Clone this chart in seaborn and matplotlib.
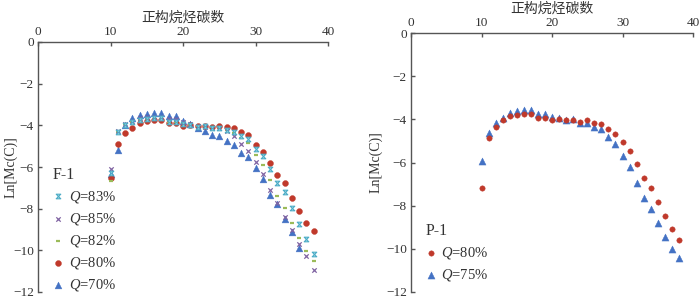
import numpy as np
import pandas as pd
import matplotlib
matplotlib.use("Agg")
import matplotlib.pyplot as plt
from matplotlib.path import Path
import seaborn as sns

# ---------------- data ----------------
carbon = list(range(10, 39))
carbon_70 = list(range(10, 37))

f1_q83 = [-6.30, -4.30, -4.00, -3.85, -3.72, -3.68, -3.65, -3.65, -3.85, -3.85, -3.92, -3.98, -4.08, -4.05,
          -4.12, -4.12, -4.20, -4.30, -4.50, -4.66, -5.13, -5.45, -6.08, -6.75, -7.19, -7.95, -8.74, -9.44, -10.17]
f1_q85 = [-6.08, -4.29, -3.94, -3.80, -3.63, -3.62, -3.60, -3.60, -3.68, -3.70, -3.85, -3.95, -4.05, -4.08,
          -4.12, -4.13, -4.29, -4.51, -4.89, -5.21, -5.77, -6.35, -7.11, -7.75, -8.38, -9.01, -9.69, -10.25, -10.94]
f1_q82 = [-6.67, -4.30, -3.95, -3.85, -3.75, -3.70, -3.68, -3.68, -3.82, -3.82, -3.90, -3.98, -4.05, -4.05,
          -4.10, -4.10, -4.20, -4.35, -4.61, -4.86, -5.42, -5.89, -6.63, -7.39, -7.98, -8.69, -9.41, -10.04, -10.51]
f1_q80 = [-6.52, -4.90, -4.39, -4.12, -3.90, -3.79, -3.75, -3.75, -3.91, -3.91, -4.02, -3.98, -4.05, -4.04,
          -4.10, -4.05, -4.10, -4.13, -4.31, -4.47, -4.92, -5.26, -5.83, -6.40, -6.79, -7.47, -8.09, -8.68, -9.07]
f1_q70 = [-6.32, -5.18, -3.99, -3.66, -3.50, -3.44, -3.41, -3.41, -3.55, -3.56, -3.77, -3.94, -4.15, -4.28,
          -4.45, -4.50, -4.73, -4.94, -5.32, -5.50, -6.03, -6.60, -7.32, -7.78, -8.49, -9.14, -9.90]

p1_q80 = [-7.19, -4.85, -4.34, -4.03, -3.86, -3.78, -3.73, -3.76, -3.92, -3.92, -4.03, -4.00, -4.05, -4.03,
          -4.12, -4.04, -4.15, -4.21, -4.46, -4.68, -5.05, -5.45, -6.08, -6.70, -7.16, -7.81, -8.46, -9.06, -9.60]
p1_q75 = [-5.93, -4.64, -4.18, -3.92, -3.72, -3.63, -3.58, -3.59, -3.77, -3.77, -3.90, -3.94, -4.03, -3.98,
          -4.15, -4.18, -4.34, -4.46, -4.83, -5.14, -5.68, -6.22, -6.94, -7.64, -8.16, -8.78, -9.43, -9.99, -10.42]

x_ticks = [0, 10, 20, 30, 40]
y_ticks = [0, -2, -4, -6, -8, -10, -12]
x_label = "正构烷烃碳数"
y_label = "Ln[Mc(C)]"

# ---------------- style ----------------
sns.set_theme(style="white")
plt.rcParams['font.family'] = ['Liberation Serif', 'Noto Sans CJK SC', 'DejaVu Sans']
plt.rcParams['mathtext.fontset'] = 'custom'
plt.rcParams['mathtext.it'] = 'Liberation Serif:italic'
plt.rcParams['mathtext.rm'] = 'Liberation Serif'
plt.rcParams['axes.unicode_minus'] = True

hourglass = Path([(-1, 1), (1, 1), (-1, -1), (1, -1), (-1, 1)],
                 [Path.MOVETO, Path.LINETO, Path.LINETO, Path.LINETO, Path.CLOSEPOLY])

C_CYAN = '#4bacc6'
C_PURP = '#8064a2'
C_GREEN = '#9bbb59'
C_RED = '#c0392b'
C_BLUE = '#4472c4'
TXT = '#333333'

fig = plt.figure(figsize=(7, 3), dpi=100)
ax1 = fig.add_axes([38 / 700, 8 / 300, 290 / 700, 250 / 300])
ax2 = fig.add_axes([411 / 700, 8 / 300, 282 / 700, 259 / 300])


def style_axes(ax, label_x):
    ax.set_xlim(0, 40)
    ax.set_ylim(-12, 0)
    ax.set_xticks(x_ticks)
    ax.set_yticks(y_ticks)
    ax.xaxis.tick_top()
    ax.xaxis.set_label_position('top')
    for s in ['right', 'bottom']:
        ax.spines[s].set_visible(False)
    for s in ['left', 'top']:
        ax.spines[s].set_color('#555555')
        ax.spines[s].set_linewidth(1.0)
    ax.tick_params(axis='both', direction='in', length=3, width=1, color='#555555',
                   labelsize=9.5, labelcolor=TXT, pad=3)
    ax.tick_params(axis='x', top=True, bottom=False, labeltop=True, labelbottom=False)
    ax.tick_params(axis='y', left=True, right=False)
    ax.set_xlabel(x_label, fontsize=10, color=TXT, labelpad=3,
                  family=['Noto Sans CJK SC', 'DejaVu Sans'])
    ax.set_ylabel(y_label, fontsize=10, color=TXT)
    ax.yaxis.set_label_coords(label_x, 0.5)
    ax.grid(False)


# left panel
sns.scatterplot(x=carbon_70, y=f1_q70, ax=ax1, marker='^', s=24, color=C_BLUE,
                edgecolor=C_BLUE, linewidth=0.3, label=r'$Q$=70%', zorder=3)
sns.scatterplot(x=carbon, y=f1_q80, ax=ax1, marker='o', s=18, color=C_RED,
                edgecolor=C_RED, linewidth=0.3, label=r'$Q$=80%', zorder=3)
sns.scatterplot(x=carbon, y=f1_q82, ax=ax1, marker='_', s=8, color=C_GREEN,
                linewidth=1.6, label=r'$Q$=82%', zorder=4)
sns.scatterplot(x=carbon, y=f1_q85, ax=ax1, marker='x', s=10, color=C_PURP,
                linewidth=0.9, label=r'$Q$=85%', zorder=4)
sns.scatterplot(x=carbon, y=f1_q83, ax=ax1, marker=hourglass, s=11, color='#d8eef5',
                edgecolor=C_CYAN, linewidth=0.8, label=r'$Q$=83%', zorder=4)

# right panel
sns.scatterplot(x=carbon, y=p1_q75, ax=ax2, marker='^', s=26, color=C_BLUE,
                edgecolor=C_BLUE, linewidth=0.3, label=r'$Q$=75%', zorder=3)
sns.scatterplot(x=carbon, y=p1_q80, ax=ax2, marker='o', s=15, color=C_RED,
                edgecolor=C_RED, linewidth=0.3, label=r'$Q$=80%', zorder=4)

style_axes(ax1, -0.072)
style_axes(ax2, -0.10)

# legends
h1, l1 = ax1.get_legend_handles_labels()
order1 = [r'$Q$=83%', r'$Q$=85%', r'$Q$=82%', r'$Q$=80%', r'$Q$=70%']
hmap1 = dict(zip(l1, h1))
leg1 = ax1.legend([hmap1[k] for k in order1], order1, title='F-1', loc='lower left',
                  bbox_to_anchor=(0.02, -0.04), frameon=False, fontsize=10.5,
                  title_fontsize=11.5, alignment='left', handlelength=0.8,
                  handletextpad=0.3, labelspacing=0.42, borderaxespad=0.2)
for t in leg1.get_texts():
    t.set_color(TXT)
leg1.get_title().set_color(TXT)

h2, l2 = ax2.get_legend_handles_labels()
order2 = [r'$Q$=80%', r'$Q$=75%']
hmap2 = dict(zip(l2, h2))
leg2 = ax2.legend([hmap2[k] for k in order2], order2, title='P-1', loc='lower left',
                  bbox_to_anchor=(0.02, 0.0), frameon=False, fontsize=10.5,
                  title_fontsize=11.5, alignment='left', handlelength=0.8,
                  handletextpad=0.3, labelspacing=0.42, borderaxespad=0.2)
for t in leg2.get_texts():
    t.set_color(TXT)
leg2.get_title().set_color(TXT)

fig.savefig('out.png', dpi=100)
